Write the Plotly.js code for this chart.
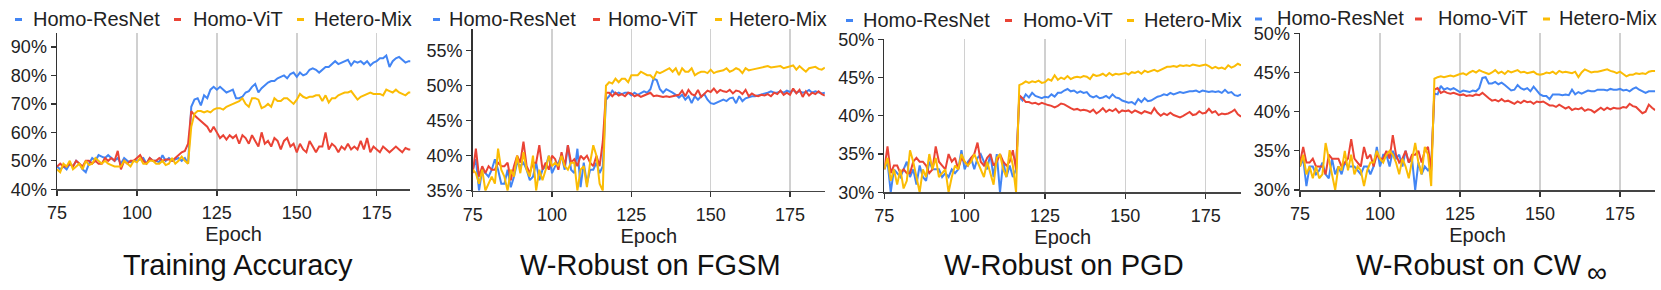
<!DOCTYPE html>
<html>
<head>
<meta charset="utf-8">
<script src="https://cdn.plot.ly/plotly-3.0.1.min.js"></script>
<style>html,body{margin:0;padding:0;background:#fff;}#chart{width:1661px;height:290px;}</style>
</head>
<body>
<div id="chart"></div>
<script>
// ---------------- DATA ----------------
const seriesNames = ['Homo-ResNet', 'Homo-ViT', 'Hetero-Mix'];
const panelTitles = ['Training Accuracy', 'W-Robust on FGSM', 'W-Robust on PGD', 'W-Robust on CW'];
const xTickVals = [75, 100, 125, 150, 175];
const xTitle = 'Epoch';
const firstEpoch = 75;
const yTicks1 = [40, 50, 60, 70, 80, 90];
const yTicks2 = [35, 40, 45, 50, 55];
const yTicks3 = [30, 35, 40, 45, 50];
const yTicks4 = [30, 35, 40, 45, 50];

// Training Accuracy (%), epochs 75..186
const accResNet = [
  48,47,48,47,49,48,50,49,47,46, 49,51,50,52,51.5,51,52,51,50,51, 49,51,50,49.5,50,50,50.5,51,49,51, 50,50,49.5,52,50,51,50,50.5,51,50, 51,49,
  69,71.5,72,69.5,73,72,75,76,75,76, 75,74,74.5,75,72,72,72.5,74,74.5,76, 77,74,75.5,76.5,77.5,78,78,79,79.5,80, 79,80.5,81,79.5,81,80,80.5,82,82.5,82,
  81,82,83,83,84,85,84,84.5,85,85.5, 83.5,85,84.5,85,84,85,83.5,84.5,85,86, 86,87,83,85,86,86.5,85.5,84.5,85,85];
const accViT = [
  48,49,48,48,49,48,50,49,48,50, 50,49,50,49,49,51,50,51,50,53.5, 47,50,49,50,50,51,52,50,49,51, 50,50,51,50,50.5,50.5,50,51,52,53, 53.5,56,
  67.5,66,65,64,63,62,60,62,60,58, 59,57.5,59,58,59,56,59,58,56,59, 57,55,60,56,57,55,58,57,54,57, 58,55,56,53,56,54,53,57,55,53,
  55,55,60,54,56,55,53,55,54,56, 54,55,54,57,54,58,53,55,54,53, 55,54,53,54,55,54,53,54.5,54,54];
const accMix = [
  47,46,49,48,50,47,48,49,47,50, 48.5,49,51,50,49,50,49,48.5,48,48, 48,50,49,48,50,49.5,51,49,49,50, 50,49,49,50,48.5,49,51,49,50,51.5, 50,49,
  62,66.5,67.5,67.5,67,67.5,67,68,68.5,68.5, 68,69,69.5,70,70.5,71,72,70,69,72, 72,71.5,68.5,69,70,69,72,71,71,72, 72,71,70,71.5,73.5,72.5,72,72.5,72.5,73,
  73,71,73,70.5,72,72,73,73.5,74,74, 74.5,73,71.5,72.5,73,73.5,74,73.5,73.5,73.5, 73,75,74.5,74,75,74,73.5,73,74,74];

// W-Robust on FGSM (%)
const fgsmResNet = [
  38,39.5,35,38,37.5,37,38,39.5,38,36, 36,38,35.5,37,39,38.5,39,38,36.5,37, 39,36.5,38,38.5,40,37.5,38.5,39,40,38, 41.5,38,37.5,41,35.5,39,36,38,38,39, 37.5,38.5,
  48,48.5,49.3,48.8,49,48.8,49,49,48.6,49, 48.7,49,49.2,49,49.5,51,50.8,49.5,49,49.5, 49.3,49,48.7,48.3,48.7,48,48.5,47.5,48.5,48, 48.5,48.8,48,47.5,47.4,47.6,47.8,48,47.8,48.2,
  48.3,47.5,48.5,47.8,48.2,48.4,48.5,48.5,48.6,48.7, 48.8,49,49.2,49,49,49.2,49,49.3,49.1,49.4, 49,49.2,49,49.1,49.4,49,49.2,49,48.9,49];
const fgsmViT = [
  37.5,41,37,38.5,37.5,38.5,38,38,39,38.5, 38.5,39,36.5,38.5,40,39,42,38.5,37.5,39, 39,41.5,38,39,38,40,39.5,38,40.5,38.5, 41.5,39,39.5,38.5,40,39.5,40,39,38.5,40, 38.5,42,
  49,49,48.5,49,48.6,48.8,48.5,49,48.9,48.5, 48.7,48.4,48.6,48.8,49,48.5,48.6,48.5,48.4,48.5, 48.4,48.5,48.6,48.7,49.3,48.5,49.4,48.8,48.6,49.4, 48.4,48.8,49.3,49.1,49.6,49,49.4,49.2,49.1,49.4,
  48.9,49.3,49.2,48.8,49.4,48.5,48.9,48.6,48.5,48.7, 48.6,48.8,48.5,49,48.8,49.3,48.7,49,48.7,49.6, 48.9,49.4,48.4,49.2,48.6,49,48.8,49.2,48.8,48.6];
const fgsmMix = [
  38,37.5,36,38,35,36,37,36,41,38, 37,35,38,37,40,37.5,40.5,38,37,40, 35,38,36.5,38,40,38.5,39,38.5,40,38.5, 38,39,39,35,38,38.5,35.5,39,41.5,40, 36,35,
  50,50.5,50.3,51,50.5,51,51,50.5,51.5,51.5, 51.5,52,51.8,51.5,51.5,51,52,51.8,52,52.2, 52.5,52,52.5,51.5,52.5,52,52,52.5,51.5,51.8, 52,52,51.8,52.3,51.8,52,52.1,52.2,52.5,52,
  52.2,52.5,52.3,51.8,52.5,52.2,52.3,52.4,52.5,52.6, 52.7,52.8,52.6,52.7,52.8,52.8,52.5,52.6,52.8,52.9, 52.3,52.8,52.4,52,52.5,52.6,52.7,52.4,52.3,52.6];

// W-Robust on PGD (%)
const pgdResNet = [
  33,34,30,33,32.5,32,33,34,32,33, 31,33.5,32,31.5,34,33,33,33,32,32.5, 32,33,32.5,33,35.5,33,34,34.5,33,34.5, 35,34,33,35,32,35,30,34,32,33.5, 32,33,
  42.5,42,42.8,42.4,43,42.6,42.5,42.3,42.5,42.4, 42.8,42.5,43,43,43.3,43.5,43.2,43.3,43,43.2, 43,43.1,42.6,42.4,42.6,42.3,42.4,42.6,42.3,42.8, 42.4,42.3,42,41.8,41.7,41.8,41.5,42.2,41.8,42.3,
  41.9,42,42.3,42.5,42.6,42.8,42.7,43,42.8,43, 43.1,43,43.1,43.2,43.2,43.3,43.1,43.3,43.2,43.1, 43.2,43.1,43.2,43,43.4,43,43.1,42.7,42.6,42.8];
const pgdViT = [
  33,36,32.5,33.5,33.5,32.5,33,32.5,32.5,34, 34.5,34,34,33.5,32.5,33,36,34,33.5,33, 35,34,34.5,33,34.5,34,33.5,34.5,35,36.5, 34,33.5,34.5,35,33.5,34,35,34,33.5,34, 35.5,33,
  42.7,42.3,41.8,41.8,41.6,41.7,41.5,41.7,41.6,41.4, 41.3,41.1,41.3,41.6,41.5,41.2,41,40.8,40.9,40.7, 40.8,40.7,40.5,40.8,40.3,40.6,41,40.5,40.8,40.6, 40.9,40.4,40.7,40.6,40.7,40.4,40.7,40.5,40.3,40.6,
  40.5,40.3,41,40.4,40,40.3,40.1,40.4,40.1,40, 39.8,40,40.2,40.5,40.1,40.2,40.6,40.3,40.4,40.9, 40.4,40.6,40.1,40.3,40.2,40.3,40.5,40.8,40.2,39.9];
const pgdMix = [
  33,34.5,31.5,33,31,33,30.5,31.5,35.5,34, 32,30,33,32,35,33,34.5,32,32.5,33, 30,32,33.5,33,35,34,33.5,34,35,34, 33,32,34,32.5,31,34.5,35,33,32,35.5, 33.5,30,
  44,44.2,44.5,44.3,44.5,44.4,44.6,44.3,44.4,44.8, 44.6,45.3,44.7,45,44.8,45.2,44.8,45,45.1,45, 45.2,45.1,44.8,45.4,45.2,45.3,45.5,45.2,45.6,45.3, 45.5,45.4,45.5,45.6,45.4,45.7,45.6,45.8,45.5,45.9,
  45.7,45.8,46,45.8,46,46.3,46.4,46.4,46.5,46.4, 46.6,46.5,46.6,46.5,46.7,46.6,46.5,46.6,46.7,46.5, 46.2,46.4,46.2,46.3,46.1,46.6,46.3,46.5,46.8,46.6];

// W-Robust on CW-inf (%)
const cwResNet = [
  33,34,30.5,33,33,32,32.5,33.5,32,31.5, 34,32,33,32,33.5,33,33,33,32.5,32, 33,33,32,33,35.5,33,34.5,34.5,33,35, 34,34.5,33,35,33.5,34,30,33.5,32,33, 32.5,33,
  42.3,42.2,43.3,42.8,43,42.8,43,42.7,42.5,42.7, 42.6,42.5,42.7,42.6,43,44.3,44.4,43.6,43.6,43.8, 43.5,43.7,43.4,43,42.7,42.8,43.4,43,42.8,43, 42.6,43.2,42.7,42.2,42,42,41.6,42.2,42.2,42.2,
  42.1,42.2,42.1,42.8,42.2,42.5,42.3,42.5,42.7,42.6, 42.6,42.8,42.8,42.8,42.7,42.9,42.8,42.8,42.9,42.7, 42.8,42.6,42.9,43.1,42.8,42.6,42.4,42.6,42.6,42.6];
const cwViT = [
  33.5,35.5,33.5,33.5,34,33,33,33,32,34.5, 34,34,34,33,33.5,34,36.5,34,33.5,33, 35.5,34,34.5,33,34.5,34,34,35,34,37, 34.5,33.5,34,35,33.5,34.5,34.5,35,33.5,35, 35.5,32.5,
  42.8,43,42.4,42.6,42.4,42.3,42.4,42.2,42.1,42.2, 42,42.1,42,42.2,42.1,42.4,42,41.7,41.4,41.5, 41.3,41.6,41.3,41.4,41.2,41,41.3,41.1,41.4,41.2, 41.3,41,41.3,41.2,41.3,41,40.8,40.8,40.6,40.9,
  40.7,40.4,40.6,40.2,40.4,40.3,40.5,40.1,40.3,40.2, 39.9,40.2,40.5,40.2,40.5,40.3,40.5,40.4,40.4,40.6, 40.5,41,40.7,40.6,40.2,39.8,40,40.9,40.5,40.2];
const cwMix = [
  33,34.5,32,33,31.5,33,31.5,32,36,34, 32,30,33,32.5,35,32.5,34.5,32,33,32.5, 30.5,32.5,33.5,33.5,35,34,33.5,34.5,35,34.5, 33.5,32,34,33,31.5,34,36,33.5,32,35.5, 34.5,30.5,
  44.2,44.4,44.5,44.4,44.5,44.6,44.5,44.7,44.8,44.9, 44.7,45,45.2,45,45.3,45.1,44.9,44.8,45,45.3, 44.9,45.1,44.8,45.2,45,45.2,45.3,45,45.1,44.9, 45,45.1,44.8,44.7,44.8,45,44.9,45.1,44.8,45.2,
  45,45.1,45,44.9,45.1,44.4,45,45.4,45.2,45, 45.1,45.1,45.2,45.3,45.4,45.2,45.1,44.9,45.1,44.8, 44.5,44.7,44.7,44.9,44.8,44.9,44.8,45.1,45.2,45.2];

// ---------------- LAYOUT / STYLE ----------------
const W = 1661, H = 290;
const colors = ['#4285F4', '#EA4335', '#FBBC04'];
const FONT = 'Liberation Sans, Arial, Helvetica, sans-serif';
const panelSeries = [
  [accResNet, accViT, accMix],
  [fgsmResNet, fgsmViT, fgsmMix],
  [pgdResNet, pgdViT, pgdMix],
  [cwResNet, cwViT, cwMix]
];
const yTicks = [yTicks1, yTicks2, yTicks3, yTicks4];
// pixel geometry: left px of x=75, px per epoch, x range max, y bottom px, y top px, y range
const geom = [
  {x0: 57,    ppe: 3.197, xmax: 185.5, yb: 189.3, yt: 33.3, yr: [40, 94.8]},
  {x0: 472.7, ppe: 3.173, xmax: 186,   yb: 190.7, yt: 29.3, yr: [35, 58.06]},
  {x0: 884.3, ppe: 3.214, xmax: 186,   yb: 192.3, yt: 39.3, yr: [30, 50]},
  {x0: 1300,  ppe: 3.2,   xmax: 186,   yb: 190,   yt: 33.3, yr: [30, 50]}
];
// legend: dash start px, text start px for each series; legend y center
const legendPos = [
  {dash: [15, 174, 297],    text: [31, 191, 312],   y: 19},
  {dash: [433, 593, 715],   text: [447, 606, 727],  y: 19},
  {dash: [846, 1005, 1127], text: [861, 1021, 1142], y: 20},
  {dash: [1255, 1415, 1543],text: [1275, 1436, 1557], y: 18.5}
];
const titlePos = [
  {x: 237.7, anchor: 'center'},
  {x: 650, anchor: 'center'},
  {x: 1064, anchor: 'center'},
  {x: 1354, anchor: 'left'}
];

const traces = [];
const layout = {
  width: W, height: H,
  margin: {l: 0, r: 0, t: 0, b: 0, pad: 0},
  paper_bgcolor: '#ffffff', plot_bgcolor: 'rgba(0,0,0,0)',
  showlegend: false,
  font: {family: FONT, color: '#222', size: 18},
  annotations: [], shapes: []
};

panelSeries.forEach((series, p) => {
  const g = geom[p];
  const n = series[0].length;
  const epochs = [];
  for (let i = 0; i < n; i++) epochs.push(firstEpoch + i);
  const xs = p === 0 ? '' : String(p + 1);
  series.forEach((vals, s) => {
    traces.push({
      type: 'scatter', mode: 'lines', x: epochs, y: vals,
      name: seriesNames[s], xaxis: 'x' + xs, yaxis: 'y' + xs,
      line: {color: colors[s], width: 2}, hoverinfo: 'skip'
    });
  });
  const xRight = g.x0 + (g.xmax - firstEpoch) * g.ppe;
  layout['xaxis' + xs] = {
    domain: [g.x0 / W, xRight / W], range: [firstEpoch, g.xmax], anchor: 'y' + xs,
    tickvals: xTickVals, ticktext: xTickVals.map(String),
    showgrid: true, gridcolor: '#d0d0d0', gridwidth: 1.5, zeroline: false,
    showline: true, linecolor: '#444', linewidth: 1.5,
    ticks: 'outside', ticklen: 5, tickcolor: '#333', tickwidth: 1.3,
    ticklabelstandoff: 2,
    tickfont: {family: FONT, size: 18, color: '#222'},
    title: {text: xTitle, font: {family: FONT, size: 20, color: '#222'}, standoff: 3},
    fixedrange: true
  };
  layout['yaxis' + xs] = {
    domain: [1 - g.yb / H, 1 - g.yt / H], range: g.yr, anchor: 'x' + xs,
    tickvals: yTicks[p], ticktext: yTicks[p].map(v => v + '%'),
    showgrid: false, zeroline: false,
    showline: true, linecolor: '#333', linewidth: 1.5,
    ticks: 'outside', ticklen: 5, tickcolor: '#333', tickwidth: 1.3,
    tickfont: {family: FONT, size: 18, color: '#222'},
    fixedrange: true
  };
  // legend entries
  const lp = legendPos[p];
  seriesNames.forEach((nm, s) => {
    layout.shapes.push({
      type: 'line', xref: 'paper', yref: 'paper',
      x0: lp.dash[s] / W, x1: (lp.dash[s] + 7) / W,
      y0: 1 - (lp.y + 0.5) / H, y1: 1 - (lp.y + 0.5) / H,
      line: {color: colors[s], width: 3}
    });
    layout.annotations.push({
      xref: 'paper', yref: 'paper', x: lp.text[s] / W, y: 1 - lp.y / H,
      xanchor: 'left', yanchor: 'middle', showarrow: false,
      text: nm, font: {family: FONT, size: 20, color: '#222'}
    });
  });
  // panel title
  layout.annotations.push({
    xref: 'paper', yref: 'paper', x: titlePos[p].x / W, y: 1 - 264.5 / H,
    xanchor: titlePos[p].anchor, yanchor: 'middle', showarrow: false,
    text: panelTitles[p], font: {family: FONT, size: 29, color: '#111'}
  });
});
// subscript infinity of the CW title
layout.annotations.push({
  xref: 'paper', yref: 'paper', x: 1597 / W, y: 1 - 272 / H,
  xanchor: 'center', yanchor: 'middle', showarrow: false, borderpad: 0,
  text: '∞', font: {family: FONT, size: 28, color: '#111'}
});

Plotly.newPlot('chart', traces, layout, {staticPlot: true, displayModeBar: false});
</script>
</body>
</html>
